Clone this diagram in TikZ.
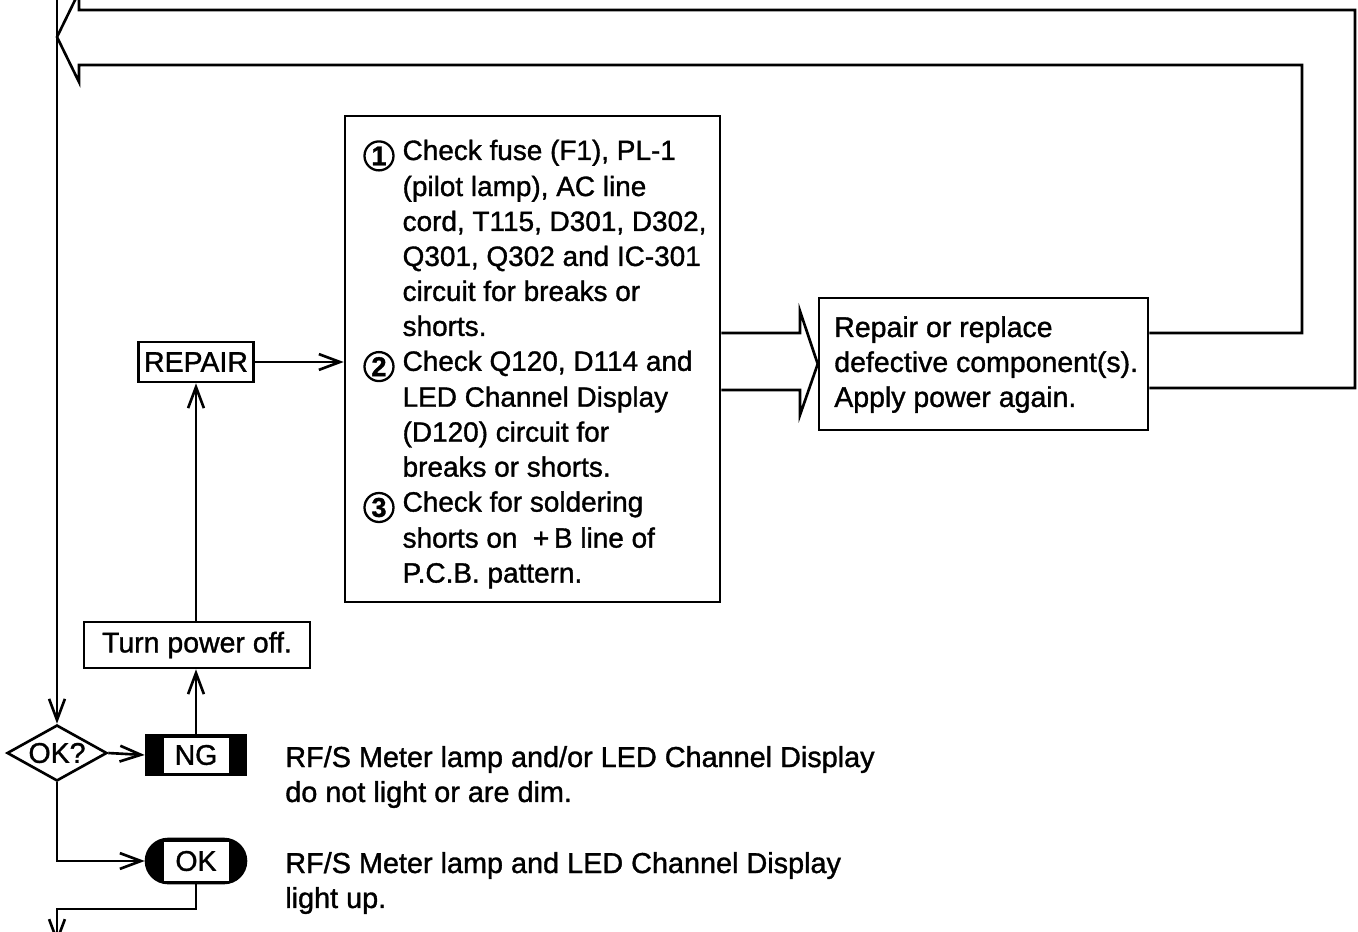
\documentclass[tikz,border=0pt]{standalone}
\usepackage{fontspec}
\setmainfont{Liberation Sans}[FakeBold=1.2]
\usetikzlibrary{arrows.meta,shapes.geometric}
\newcommand\cnum[1]{\tikz[baseline={([yshift=3pt]cn.base)}]\node[circle,draw,line width=1.3pt,minimum size=0.58cm,inner sep=0pt,font=\bfseries\fontsize{15.5}{15.5}\selectfont](cn){#1};}
\begin{document}
\begin{tikzpicture}[x=0.02cm,y=-0.02cm, line width=1.5pt,
  >={Straight Barb[length=12pt,width=9pt]},
  every node/.style={font=\fontsize{16.2}{19.9}\selectfont},
  box/.style={draw,inner sep=0pt},
  txt/.style={inner sep=0pt, anchor=base west}]
\useasboundingbox (0,0) rectangle (1358,932);

% main check box
\node[box,minimum width=7.5cm,minimum height=9.72cm] (main) at (532.5,359) {};
\node[txt,font=\fontsize{15.9}{19.9}\selectfont] (maintext) at (363,160) {\begin{tabular}[t]{@{}l@{\hspace{0.16cm}}l@{}}
\cnum{1} & Check fuse (F1), PL-1\\
 & (pilot lamp), AC line\\
 & cord, T115, D301, D302,\\
 & Q301, Q302 and IC-301\\
 & circuit for breaks or\\
 & shorts.\\
\cnum{2} & Check Q120, D114 and\\
 & LED Channel Display\\
 & (D120) circuit for\\
 & breaks or shorts.\\
\cnum{3} & Check for soldering\\
 & shorts on ~+\,B line of\\
 & P.C.B. pattern.
\end{tabular}};

% repair box
\node[box,minimum width=6.58cm,minimum height=2.64cm] (fix) at (983.5,364) {};
\node[txt] (fixtext) at (833,337) {\begin{tabular}[t]{@{}l@{}}Repair or replace\\defective component(s).\\Apply power again.\end{tabular}};

% hollow arrow main -> fix
\draw (main.east |- 0,333) -- (800,333) -- (800,311) -- (fix.west) -- (800,415) -- (800,390) -- (main.east |- 0,390);

% big hollow return arrow
\draw (fix.east |- 0,388) -- (1355,388) -- (1355,10) -- (79,10) -- (79,-8) -- (57,37) -- (79,82) -- (79,65) -- (1302,65) -- (1302,333) -- (fix.east |- 0,333);

% left flow
\node[box,minimum width=2.3cm,minimum height=0.8cm] (repair) at (196,362) {REPAIR};
\node[box,minimum width=4.52cm,minimum height=0.92cm] (off) at (197,645) {Turn power off.};
\node[draw,diamond,shape aspect=1.8,minimum width=2cm,minimum height=1.12cm,inner sep=0pt] (dia) at (57,753) {OK?};

\node[draw,fill=black,minimum width=2cm,minimum height=0.8cm] (ng) at (196,755) {};
\fill[white] (164,737.5) rectangle (229,772.5);
\node[inner sep=0pt] (ngt) at (ng.center) {NG};

\node[draw,fill=black,rounded corners=0.44cm,minimum width=2cm,minimum height=0.88cm] (ok) at (196,861) {};
\fill[white] (164,841.5) rectangle (229,880.5);
\node[inner sep=0pt] (okt) at (ok.center) {OK};

\node[txt,font=\fontsize{16.4}{19.9}\selectfont] (ngdesc) at (284,767) {\begin{tabular}[t]{@{}l@{}}RF/S Meter lamp and/or LED Channel Display\\do not light or are dim.\end{tabular}};
\node[txt,font=\fontsize{16.4}{19.9}\selectfont] (okdesc) at (284,873) {\begin{tabular}[t]{@{}l@{}}RF/S Meter lamp and LED Channel Display\\light up.\end{tabular}};

\coordinate (top) at (57,-10);
\coordinate (bend) at (57,909);
\coordinate (bot) at (57,944);

\draw[->] (top) -- (dia.north);
\draw[->] (dia.east) -- (ng.west);
\draw[->] (dia.south) |- (ok.west);
\draw[->] (ok.south) |- (bend) -- (bot);
\draw[->] (ng.north) -- (ng.north |- off.south);
\draw[->] (ng.north |- off.north) -- (repair.south);
\draw[->] (repair.east) -- (repair.east -| main.west);
\end{tikzpicture}
\end{document}
